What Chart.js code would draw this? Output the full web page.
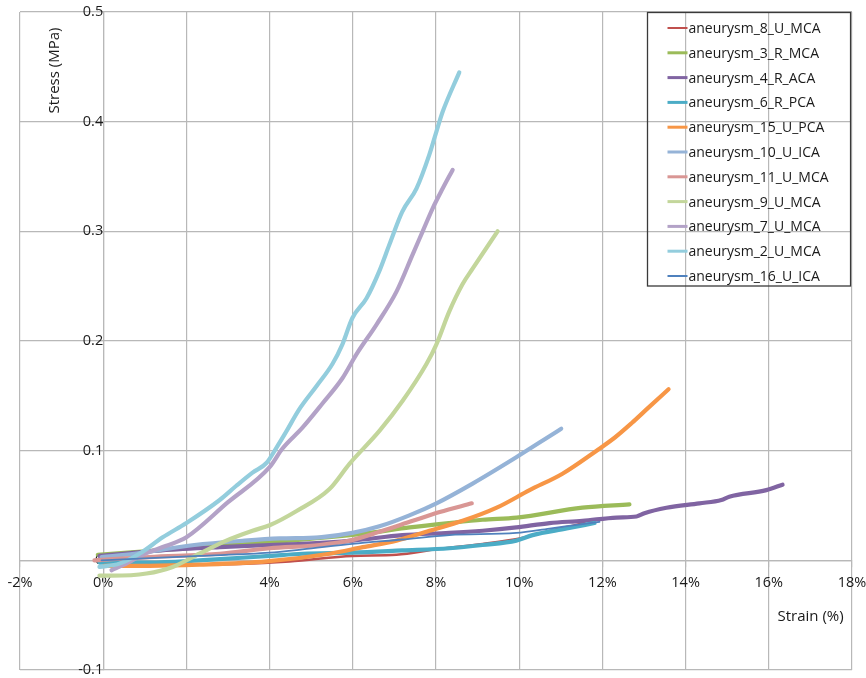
<!DOCTYPE html>
<html>
<head>
<meta charset="utf-8">
<script src="https://cdn.jsdelivr.net/npm/chart.js@4/dist/chart.umd.min.js"></script>
<style>
  html, body { margin: 0; padding: 0; background: #ffffff; }
  #wrap { width: 866px; height: 678px; }
</style>
</head>
<body>
<div id="wrap"><canvas id="c" width="866" height="678"></canvas></div>
<script>
// Strain (%) and stress (MPa) samples for each aneurysm specimen
const strain8  = [-0.09, 2.31, 4.48, 5.99, 7.05, 8.01, 9.12, 10.01, 10.97, 11.57];
const stress8  = [-0.002, -0.004, -0.001, 0.004, 0.005, 0.010, 0.015, 0.020, 0.029, 0.034];

const strain3  = [-0.13, 0.59, 1.6, 3.04, 4.48, 5.68, 6.40, 7.37, 8.32, 9.12, 9.94, 11.52, 12.65];
const stress3  = [0.005, 0.007, 0.010, 0.014, 0.018, 0.022, 0.025, 0.030, 0.034, 0.037, 0.039, 0.048, 0.051];

const strain4  = [-0.09, 1.40, 2.80, 4.00, 4.79, 5.99, 7.19, 8.32, 9.12, 9.93, 10.73, 11.52, 12.34, 12.82, 13.01, 13.54, 14.33, 14.86, 15.05, 15.94, 16.33];
const stress4  = [0.004, 0.009, 0.012, 0.014, 0.015, 0.018, 0.023, 0.025, 0.027, 0.030, 0.034, 0.036, 0.039, 0.040, 0.043, 0.048, 0.052, 0.055, 0.058, 0.064, 0.069];

const strain6  = [-0.09, 1.11, 2.31, 4.00, 4.79, 5.99, 7.19, 8.32, 9.12, 9.93, 10.32, 11.14, 11.81];
const stress6  = [-0.002, -0.002, 0.000, 0.004, 0.006, 0.007, 0.009, 0.011, 0.014, 0.018, 0.023, 0.029, 0.034];

const strain15 = [0.03, 1.11, 2.31, 3.93, 5.44, 6.24, 7.05, 7.84, 8.64, 9.46, 10.25, 11.04, 11.86, 12.30, 12.70, 13.10, 13.59];
const stress15 = [-0.005, -0.005, -0.004, -0.001, 0.006, 0.012, 0.018, 0.027, 0.036, 0.048, 0.064, 0.079, 0.100, 0.112, 0.125, 0.139, 0.156];

const strain10 = [-0.04, 0.75, 2.19, 3.40, 4.24, 5.20, 5.99, 6.64, 7.36, 8.01, 8.88, 9.93, 10.68, 11.01];
const stress10 = [0.003, 0.006, 0.014, 0.018, 0.020, 0.021, 0.025, 0.031, 0.041, 0.052, 0.070, 0.094, 0.112, 0.120];

const strain11 = [-0.21, 1.11, 2.80, 4.00, 5.20, 5.92, 6.64, 7.44, 8.09, 8.86];
const stress11 = [0.000, 0.003, 0.006, 0.011, 0.014, 0.018, 0.026, 0.036, 0.044, 0.052];

const strain9  = [-0.09, 0.22, 1.04, 1.67, 2.31, 2.96, 3.59, 4.00, 4.65, 5.44, 5.92, 6.64, 7.19, 7.77, 8.01, 8.32, 8.64, 8.88, 9.48];
const stress9  = [-0.014, -0.014, -0.012, -0.006, 0.006, 0.018, 0.027, 0.032, 0.045, 0.065, 0.088, 0.118, 0.145, 0.179, 0.197, 0.227, 0.252, 0.266, 0.300];

const strain7  = [0.2, 0.5, 1.0, 1.5, 2.0, 3.0, 4.0, 4.31, 4.79, 5.27, 5.75, 6.09, 6.57, 7.05, 7.44, 7.68, 7.92, 8.16, 8.40];
const stress7  = [-0.009, -0.004, 0.006, 0.013, 0.021, 0.053, 0.085, 0.102, 0.121, 0.143, 0.166, 0.188, 0.215, 0.245, 0.279, 0.300, 0.321, 0.339, 0.356];

const strain2  = [-0.09, 0.39, 0.87, 1.43, 2.0, 2.8, 3.2, 3.59, 3.93, 4.17, 4.41, 4.70, 5.13, 5.51, 5.75, 5.99, 6.33, 6.64, 6.88, 7.19, 7.53, 7.84, 8.01, 8.16, 8.56];
const stress2  = [-0.006, -0.003, 0.006, 0.021, 0.034, 0.055, 0.068, 0.080, 0.089, 0.103, 0.118, 0.137, 0.159, 0.179, 0.197, 0.221, 0.239, 0.264, 0.288, 0.318, 0.339, 0.370, 0.391, 0.409, 0.445];

const strain16 = [-0.04, 1.11, 2.31, 4.00, 4.79, 5.99, 7.19, 8.32, 9.93, 10.73, 11.52, 11.93];
const stress16 = [0.000, 0.002, 0.004, 0.007, 0.010, 0.015, 0.019, 0.023, 0.025, 0.029, 0.033, 0.035];

// Axis tick values
const strainTicks = [-2, 0, 2, 4, 6, 8, 10, 12, 14, 16, 18];
const stressTicks = [-0.1, 0, 0.1, 0.2, 0.3, 0.4, 0.5];

const series = [
  { label: 'aneurysm_8_U_MCA',  x: strain8,  y: stress8,  color: '#C0504D', width: 2.5 },
  { label: 'aneurysm_3_R_MCA',  x: strain3,  y: stress3,  color: '#9BBB59', width: 4.2 },
  { label: 'aneurysm_4_R_ACA',  x: strain4,  y: stress4,  color: '#8064A2', width: 4.2 },
  { label: 'aneurysm_6_R_PCA',  x: strain6,  y: stress6,  color: '#4BACC6', width: 4.2 },
  { label: 'aneurysm_15_U_PCA', x: strain15, y: stress15, color: '#F79646', width: 4.2 },
  { label: 'aneurysm_10_U_ICA', x: strain10, y: stress10, color: '#95B3D7', width: 4.2 },
  { label: 'aneurysm_11_U_MCA', x: strain11, y: stress11, color: '#D99694', width: 4.2 },
  { label: 'aneurysm_9_U_MCA',  x: strain9,  y: stress9,  color: '#C3D69B', width: 4.2 },
  { label: 'aneurysm_7_U_MCA',  x: strain7,  y: stress7,  color: '#B3A2C7', width: 4.2 },
  { label: 'aneurysm_2_U_MCA',  x: strain2,  y: stress2,  color: '#93CDDD', width: 4.2 },
  { label: 'aneurysm_16_U_ICA', x: strain16, y: stress16, color: '#4F81BD', width: 1.8 }
];

const FONT = '"Open Sans", "DejaVu Sans", sans-serif';
const TEXT = '#1a1a1a';
const GRID = '#b8b8b8';

const datasets = series.map((s, i) => ({
  label: s.label,
  data: s.x.map((v, k) => ({ x: v, y: s.y[k] })),
  borderColor: s.color,
  backgroundColor: s.color,
  borderWidth: s.width,
  legendWidth: s.width > 3 ? 3 : 2,
  pointRadius: 0,
  cubicInterpolationMode: 'monotone',
  fill: false,
  borderCapStyle: 'round',
  borderJoinStyle: 'round',
  order: series.length - i
}));

// Boxed legend drawn inside the top-right of the plot
const boxLegend = {
  id: 'boxLegend',
  afterDatasetsDraw(chart) {
    const ctx = chart.ctx;
    const area = chart.chartArea;
    ctx.save();
    ctx.font = '14px ' + FONT;
    let maxW = 0;
    chart.data.datasets.forEach(d => { maxW = Math.max(maxW, ctx.measureText(d.label).width); });
    const rowH = 24.8;
    const boxW = 41 + maxW + 22;
    const boxH = 15.5 + (chart.data.datasets.length - 1) * rowH + 10;
    const left = Math.round(area.right - 2 - boxW) + 0.5;
    const top = Math.round(area.top) + 0.5;
    ctx.strokeStyle = '#3a3a3a';
    ctx.lineWidth = 1.3;
    ctx.strokeRect(left, top, boxW, boxH);
    ctx.textBaseline = 'middle';
    ctx.textAlign = 'left';
    chart.data.datasets.forEach((d, i) => {
      const cy = top + 15.5 + i * rowH;
      ctx.strokeStyle = d.borderColor;
      ctx.lineWidth = d.legendWidth;
      ctx.lineCap = 'butt';
      ctx.beginPath();
      ctx.moveTo(left + 20, cy);
      ctx.lineTo(left + 40, cy);
      ctx.stroke();
      ctx.fillStyle = TEXT;
      ctx.fillText(d.label, left + 41, cy + 1);
    });
    ctx.restore();
  }
};

// Axis titles: rotated stress title near the top of the y axis, strain title at the right end
const axisTitles = {
  id: 'axisTitles',
  afterDraw(chart) {
    const ctx = chart.ctx;
    const xs = chart.scales.x, ys = chart.scales.y;
    ctx.save();
    ctx.fillStyle = TEXT;
    ctx.font = '15px ' + FONT;
    ctx.textBaseline = 'middle';
    ctx.save();
    ctx.translate(xs.getPixelForValue(-1.17), ys.getPixelForValue(0.4466));
    ctx.rotate(-Math.PI / 2);
    ctx.textAlign = 'center';
    ctx.fillText('Stress (MPa)', 0, 0);
    ctx.restore();
    ctx.textAlign = 'right';
    ctx.fillText('Strain (%)', xs.getPixelForValue(17.8), ys.getPixelForValue(-0.051));
    ctx.restore();
  }
};

// Keep tick labels from widening the plot margins; the layout padding sets them
const noScalePadding = sc => {
  sc.paddingLeft = 0; sc.paddingRight = 0; sc.paddingTop = 0; sc.paddingBottom = 0;
};

new Chart(document.getElementById('c'), {
  type: 'line',
  data: { datasets },
  options: {
    responsive: false,
    devicePixelRatio: 1,
    animation: false,
    layout: { padding: { left: 20, right: 14, top: 12, bottom: 8 } },
    plugins: { legend: { display: false }, tooltip: { enabled: false } },
    scales: {
      x: {
        type: 'linear',
        position: { y: 0 },
        min: strainTicks[0],
        max: strainTicks[strainTicks.length - 1],
        afterBuildTicks: sc => { sc.ticks = strainTicks.map(v => ({ value: v })); },
        afterFit: noScalePadding,
        ticks: {
          color: TEXT,
          font: { family: FONT, size: 14.5 },
          padding: 8,
          maxRotation: 0,
          callback: v => v + '%'
        },
        grid: { color: GRID, lineWidth: 1.2, tickLength: 6 },
        border: { color: GRID, width: 1.2 }
      },
      y: {
        type: 'linear',
        position: { x: 0 },
        min: stressTicks[0],
        max: stressTicks[stressTicks.length - 1],
        afterBuildTicks: sc => { sc.ticks = stressTicks.map(v => ({ value: v })); },
        afterFit: noScalePadding,
        ticks: {
          color: TEXT,
          font: { family: FONT, size: 14.5 },
          padding: 3,
          callback: v => (Math.abs(v) < 1e-9 ? '0' : (Math.round(v * 10) / 10).toString())
        },
        grid: { color: GRID, lineWidth: 1.2, tickLength: 6 },
        border: { color: GRID, width: 1.2 }
      }
    }
  },
  plugins: [boxLegend, axisTitles]
});
</script>
</body>
</html>
